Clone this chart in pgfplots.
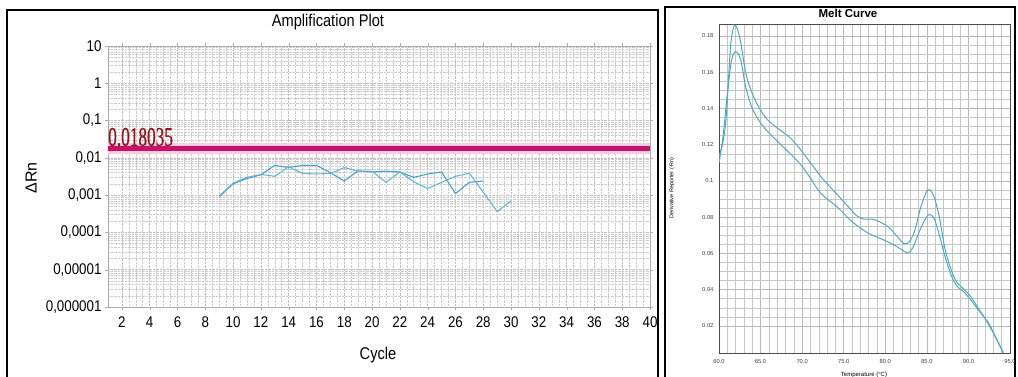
\documentclass[border=0pt]{standalone}
\usepackage{fontspec}
\setmainfont{Liberation Sans}
\newfontfamily\narrowsans[FakeStretch=0.86]{Liberation Sans}
\newfontfamily\narrowserif[FakeStretch=0.64,FakeBold=0.6]{Liberation Serif}
\usepackage{pgfplots}
\pgfplotsset{compat=1.18}

\definecolor{ampblue}{RGB}{70,160,205}
\definecolor{ampblueb}{RGB}{100,182,215}
\definecolor{thresh}{RGB}{195,20,105}
\definecolor{threshhalo}{RGB}{248,205,228}
\definecolor{threshtxt}{RGB}{150,20,30}
\definecolor{meltcol}{RGB}{80,170,190}

\begin{document}
\begin{tikzpicture}
\path[use as bounding box] (0,0) rectangle (1018pt,376pt);
\begin{scope}
\clip (0,0) rectangle (1018pt,376pt);

% panel frames
\draw[line width=1.6pt] (7pt,-5pt) rectangle (658pt,366pt);
\draw[line width=1.6pt] (665pt,-5pt) rectangle (1015pt,369pt);

% ---------------- Amplification plot ----------------
\begin{axis}[
  at={(108pt,69pt)}, anchor=south west,
  scale only axis, width=542pt, height=261pt,
  xmin=1, xmax=40,
  ymode=log, ymin=1e-6, ymax=10,
  xtick={2,4,...,40}, minor x tick num=3,
  ytick={1e-6,1e-5,1e-4,1e-3,1e-2,1e-1,1,10},
  yticklabels={{0,000001},{0,00001},{0,0001},{0,001},{0,01},{0,1},1,10},
  xmajorgrids, xminorgrids, ymajorgrids, yminorgrids,
  major grid style={gray!50, densely dotted, line width=0.5pt},
  minor grid style={gray!40, densely dotted, line width=0.5pt},
  axis line style={gray!65},
  tick style={gray!65},
  major tick length=3pt, minor tick length=0pt,
  tick align=outside,
  /pgf/number format/assume math mode=true,
  tick label style={font=\narrowsans\fontsize{15.5}{17}\selectfont},
  xticklabel style={yshift=-3pt},
  clip=false,
]
\addplot[threshhalo, line width=11pt, forget plot] coordinates {(1,0.018035) (40,0.018035)};
\addplot[thresh, line width=5pt, forget plot] coordinates {(1,0.018035) (40,0.018035)};

% well 1
\addplot[ampblue, line width=1.1pt] coordinates {
 (9,0.0009) (10,0.0020) (11,0.0028) (12,0.0035) (13,0.0063) (14,0.0055)
 (15,0.0063) (16,0.0063) (17,0.0040) (18,0.0024) (19,0.0045) (20,0.0042)
 (21,0.0044) (22,0.0042) (23,0.0030) (24,0.0037) (25,0.0042) (26,0.0011)
 (27,0.0022) (28,0.0024)};
% well 2
\addplot[ampblueb, line width=1.1pt] coordinates {
 (9,0.00095) (10,0.0021) (11,0.0030) (12,0.0036) (13,0.0032) (14,0.0058)
 (15,0.0038) (16,0.0037) (17,0.0038) (18,0.0055) (19,0.0044) (20,0.0044)
 (21,0.0022) (22,0.0042) (23,0.0023) (24,0.0015) (25,0.0022) (26,0.0032)
 (27,0.0039) (28,0.0012) (29,0.00036) (30,0.0007)};

\node[anchor=base west, inner sep=0pt, yshift=2.5pt, text=threshtxt,
      font=\narrowserif\fontsize{27}{28}\selectfont]
  at (axis cs:1,0.018035) {0.018035};
\end{axis}

\node[font=\narrowsans\fontsize{17}{19}\selectfont] at (328pt,354pt) {Amplification Plot};
\node[font=\narrowsans\fontsize{17}{19}\selectfont] at (378pt,21pt) {Cycle};
\node[rotate=90, font=\fontsize{16}{18}\selectfont] at (31pt,198pt) {ΔRn};

% ---------------- Melt curve ----------------
\begin{axis}[
  at={(719pt,23pt)}, anchor=south west,
  scale only axis, width=291pt, height=329pt,
  xmin=60, xmax=95, ymin=0.005, ymax=0.1866,
  xtick={60,65,70,75,80,85,90,95},
  xticklabels={60.0,65.0,70.0,75.0,80.0,85.0,90.0,95.0},
  ytick={0.02,0.04,0.06,0.08,0.1,0.12,0.14,0.16,0.18},
  yticklabels={0.02,0.04,0.06,0.08,0.1,0.12,0.14,0.16,0.18},
  minor x tick num=4, minor y tick num=3,
  grid=both,
  major grid style={gray!55, line width=0.45pt},
  minor grid style={gray!45, line width=0.4pt},
  axis line style={black!70, line width=1pt},
  tick style={draw=none},
  tick label style={font=\fontsize{5.8}{7}\selectfont, text=black!75},
  xticklabel style={yshift=-3pt},
  yticklabel style={xshift=-2pt},
]
\addplot[meltcol, line width=1pt, smooth] coordinates {
 (60.0,0.1135) (60.5,0.122) (60.9,0.137) (61.4,0.175) (61.9,0.186)
 (62.5,0.179) (63.3,0.158) (64.3,0.145) (65.5,0.1355) (66.5,0.131)
 (67.5,0.1275) (68.5,0.124) (69.5,0.119) (70.5,0.113) (71.5,0.107)
 (72.5,0.101) (73.5,0.096) (74.5,0.091) (75.5,0.086) (76.5,0.081)
 (77.3,0.079) (78.5,0.0788) (79.5,0.077) (80.5,0.074) (81.5,0.069)
 (82.2,0.0655) (82.8,0.066) (83.5,0.072) (84.3,0.086) (85.1,0.095)
 (85.8,0.092) (86.5,0.080) (87.2,0.062) (88.0,0.050) (88.6,0.044)
 (89.5,0.040) (90.3,0.036) (91.0,0.031) (92.0,0.024) (93.0,0.016)
 (94.0,0.007) (94.2,0.005)};
\addplot[meltcol, line width=1pt, smooth] coordinates {
 (60.0,0.110) (60.5,0.125) (61.0,0.148) (61.5,0.1665) (62.0,0.1713)
 (62.6,0.167) (63.2,0.152) (64.0,0.140) (65.0,0.132) (66.0,0.1265)
 (67.0,0.122) (68.0,0.1175) (69.0,0.113) (70.0,0.108) (71.0,0.1015)
 (72.0,0.0945) (73.0,0.090) (74.0,0.0865) (75.0,0.082) (76.0,0.0775)
 (77.0,0.074) (78.0,0.071) (79.0,0.069) (80.0,0.067) (81.0,0.0648)
 (82.0,0.062) (82.7,0.0602) (83.3,0.063) (84.0,0.071) (84.7,0.078)
 (85.3,0.0815) (85.9,0.079) (86.5,0.070) (87.2,0.058) (88.0,0.047)
 (88.6,0.042) (89.5,0.0385) (90.5,0.033) (91.5,0.027) (92.5,0.021)
 (93.5,0.0115) (94.2,0.005)};
\end{axis}

\node[font=\bfseries\fontsize{11.5}{13}\selectfont] at (848pt,363pt) {Melt Curve};
\node[rotate=90, font=\fontsize{5.5}{6}\selectfont] at (672pt,188pt) {Derivative Reporter (-Rn)};
\node[font=\fontsize{6}{7}\selectfont] at (864pt,1pt) {Temperature (°C)};
\end{scope}
\end{tikzpicture}
\end{document}
